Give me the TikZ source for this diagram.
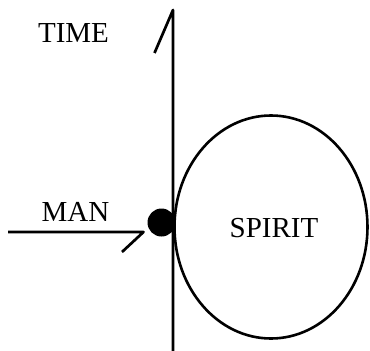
\documentclass[tikz,border=0pt]{standalone}
\usepackage{fontspec}
\setmainfont{Liberation Serif}
\usetikzlibrary{shapes.geometric}
\begin{document}
\begin{tikzpicture}[x=1pt,y=-1pt,
  lbl/.style={inner sep=0pt,anchor=base,font=\fontsize{29}{31}\selectfont},
  stroke/.style={line width=2.7pt,line join=round},
  thin stroke/.style={line width=2.6pt}]
\useasboundingbox (0,0) rectangle (370,351);
% time axis
\coordinate (tbot) at (173,352);
\coordinate (ttop) at (173,10);
\coordinate (tbarb) at (154.5,53);
\draw[stroke] (tbot) -- (ttop) -- (tbarb);
% spirit
\node[draw,thin stroke,ellipse,minimum width=193pt,minimum height=223pt,inner sep=0pt] (spirit) at (271,227) {};
\node[lbl,anchor=center] (spiritlbl) at ([xshift=3pt,yshift=-1.5pt]spirit.center) {SPIRIT};
% man
\node[circle,fill=black,minimum size=28pt,inner sep=0pt] (dot) at (161.5,222.5) {};
\coordinate (mstart) at (8,232);
\coordinate (mend) at (143.5,232);
\coordinate (mbarb) at (122,252);
\draw[stroke] (mstart) -- (mend) -- (mbarb);
% labels
\node[lbl] (time) at (73.5,42) {TIME};
\node[lbl] (man) at (75.5,221) {MAN};
\end{tikzpicture}
\end{document}
